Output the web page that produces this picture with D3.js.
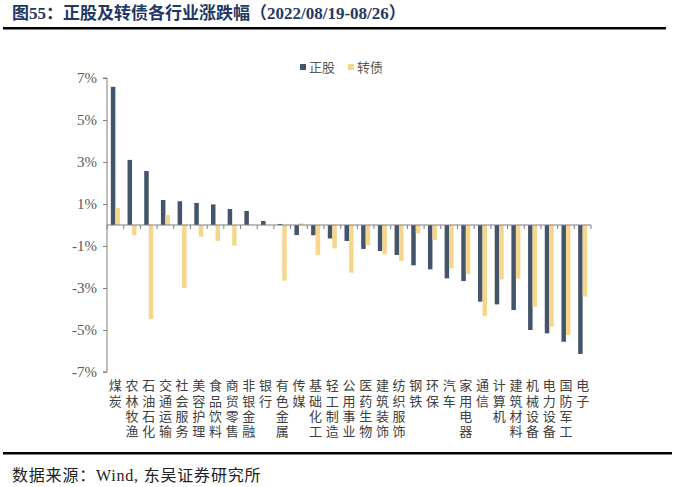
<!DOCTYPE html>
<html>
<head>
<meta charset="utf-8">
<script src="https://cdn.jsdelivr.net/npm/d3@7"></script>
<style>
  body { margin: 0; background: #fff; }
  svg { display: block; }
</style>
</head>
<body>
<svg id="chart" width="675" height="487"></svg>
<script>
// industries, weekly change (%) of stocks and convertible bonds
var categories = ['煤炭','农林牧渔','石油石化','交通运输','社会服务','美容护理','食品饮料','商贸零售','非银金融','银行',
  '有色金属','传媒','基础化工','轻工制造','公用事业','医药生物','建筑装饰','纺织服饰','钢铁','环保',
  '汽车','家用电器','通信','计算机','建筑材料','机械设备','电力设备','国防军工','电子'];
var stockChg = [6.58, 3.10, 2.57, 1.19, 1.13, 1.05, 0.98, 0.76, 0.67, 0.19,
  0.05, -0.48, -0.49, -0.64, -0.76, -1.14, -1.24, -1.43, -1.92, -2.11,
  -2.54, -2.67, -3.65, -3.78, -4.05, -5.00, -5.16, -5.56, -6.14];
var bondChg = [0.82, -0.48, -4.48, 0.48, -3.00, -0.55, -0.76, -0.98, 0.02, 0.00,
  -2.65, 0.08, -1.43, -1.11, -2.27, -0.95, -1.40, -1.71, -0.40, -0.71,
  -2.06, -2.33, -4.35, -2.59, -2.56, -3.89, -4.84, -5.24, -3.41];
var seriesNames = ['正股', '转债'];
var yTicks = [-7, -5, -3, -1, 1, 3, 5, 7];

var colors = ['#44546A', '#F5D68C'];
var svg = d3.select('#chart');

// title + rules
svg.append('text')
  .attr('x', 12).attr('y', 19)
  .attr('font-family', '"Liberation Serif", "Noto Sans CJK SC", serif')
  .attr('font-weight', 'bold').attr('font-size', 17)
  .attr('fill', '#1F3864')
  .text('图55：正股及转债各行业涨跌幅（2022/08/19-08/26）');
svg.append('rect').attr('x', 3).attr('y', 27).attr('width', 663).attr('height', 2.5).attr('fill', '#000');
svg.append('rect').attr('x', 3).attr('y', 452).attr('width', 669).attr('height', 2.5).attr('fill', '#000');
svg.append('text')
  .attr('x', 12).attr('y', 481)
  .attr('font-family', '"Liberation Serif", "Noto Sans CJK SC", serif')
  .attr('font-size', 16).attr('letter-spacing', 0.8).attr('fill', '#222')
  .text('数据来源：Wind, 东吴证券研究所');

var x0 = d3.scaleBand().domain(categories).range([107, 591]).paddingInner(0.46).paddingOuter(0.23);
var x1 = d3.scaleBand().domain(seriesNames).range([0, x0.bandwidth()]);
var y = d3.scaleLinear().domain([-7, 7]).range([372, 78]);

var step = x0.step();
var rows = categories.map(function(c, i) { return { name: c, vals: [stockChg[i], bondChg[i]] }; });

var g = svg.append('g');
var groups = g.selectAll('.cat').data(rows).enter().append('g')
  .attr('transform', function(d) { return 'translate(' + x0(d.name) + ',0)'; });
groups.selectAll('rect').data(function(d) { return d.vals; }).enter().append('rect')
  .attr('x', function(d, i) { return x1(seriesNames[i]); })
  .attr('width', x1.bandwidth())
  .attr('y', function(d) { return y(Math.max(0, d)); })
  .attr('height', function(d) { return Math.abs(y(d) - y(0)); })
  .attr('fill', function(d, i) { return colors[i]; });

// y axis
var yAxis = svg.append('g').attr('transform', 'translate(107,0)')
  .call(d3.axisLeft(y).tickValues(yTicks).tickSize(4).tickFormat(function(d) { return d + '%'; }));
yAxis.select('.domain').attr('stroke', '#7f7f7f').attr('d', 'M-4,' + y(7) + 'H0V' + y(-7) + 'H-4');
yAxis.selectAll('.tick line').attr('stroke', '#7f7f7f');
yAxis.selectAll('.tick text')
  .attr('x', -10)
  .attr('font-family', '"Liberation Serif", serif').attr('font-size', 15).attr('fill', '#595959');

// zero line with category ticks
var zero = y(0);
svg.append('line').attr('x1', 107).attr('x2', 591).attr('y1', zero).attr('y2', zero)
  .attr('stroke', '#7f7f7f').attr('stroke-width', 1);
svg.selectAll('.ctick').data(d3.range(categories.length + 1)).enter().append('line')
  .attr('x1', function(i) { return 107 + i * step; })
  .attr('x2', function(i) { return 107 + i * step; })
  .attr('y1', zero).attr('y2', zero + 4)
  .attr('stroke', '#7f7f7f');

// category labels, stacked vertically
svg.selectAll('.clab').data(categories).enter().append('text')
  .attr('class', 'clab')
  .attr('x', function(d) { return x0(d) + x0.bandwidth() / 2; })
  .attr('y', 379)
  .style('writing-mode', 'vertical-rl')
  .attr('letter-spacing', 2.3)
  .attr('font-family', '"Noto Sans CJK SC", sans-serif').attr('font-size', 13).attr('fill', '#404040')
  .text(function(d) { return d; });

// legend
var leg = svg.append('g');
var legX = [300, 348];
seriesNames.forEach(function(n, i) {
  leg.append('rect').attr('x', legX[i]).attr('y', 64).attr('width', 6).attr('height', 6).attr('fill', colors[i]);
  leg.append('text').attr('x', legX[i] + 9).attr('y', 72)
    .attr('font-family', '"Noto Sans CJK SC", sans-serif').attr('font-size', 13).attr('fill', '#595959')
    .text(n);
});
</script>
</body>
</html>
